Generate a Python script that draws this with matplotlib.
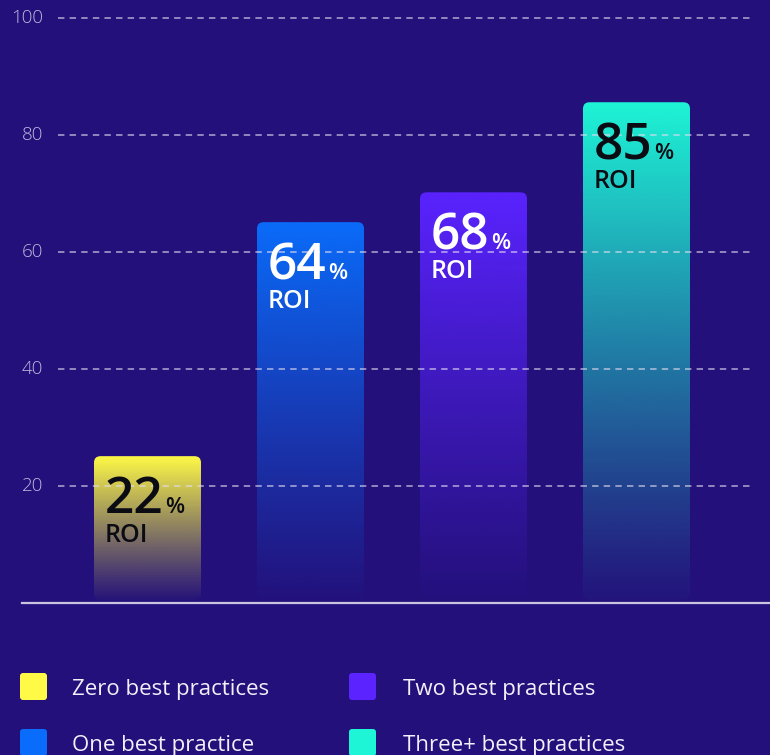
import numpy as np
import matplotlib
matplotlib.use("Agg")
import matplotlib.pyplot as plt
from matplotlib.patches import FancyBboxPatch
from matplotlib.colors import to_rgb

# data
categories = ["Zero best practices", "One best practice", "Two best practices", "Three+ best practices"]
bar_heights = [25.1, 65.1, 70.2, 85.6]
roi_labels = ["22", "64", "68", "85"]
bar_colors = ["#fffa46", "#0a6cfa", "#5a23ff", "#1ef5d6"]
text_colors = ["#0b0b14", "white", "white", "#0b0b14"]
yticks = [20, 40, 60, 80, 100]

bg = "#23107a"
font = ["Open Sans", "DejaVu Sans"]
plt.rcParams["font.family"] = font

fig = plt.figure(figsize=(7.7, 7.55), dpi=100, facecolor=bg)
ax = fig.add_axes([22 / 770, 152 / 755, 748 / 770, 585 / 755])
ax.set_facecolor(bg)
ax.set_xlim(-0.770, 3.819)
ax.set_ylim(0, 100)
ax.axis("off")

width = 107 / 163
aspect = (100 / 585) * 163  # y units per x unit in pixels

nums = []
for i, (h, c) in enumerate(zip(bar_heights, bar_colors)):
    x0 = i - width / 2
    patch = FancyBboxPatch((x0, 0.5), width, h - 0.5,
                           boxstyle="round,pad=0,rounding_size=0.04",
                           mutation_aspect=aspect, facecolor="none",
                           edgecolor="none")
    ax.add_patch(patch)
    n = 256
    grad = np.zeros((n, 1, 4))
    grad[:, 0, :3] = to_rgb(c)
    grad[:, 0, 3] = np.linspace(1.0, 0.03, n) ** 1.1
    im = ax.imshow(grad, extent=(x0, x0 + width, 0.5, h), aspect="auto",
                   origin="upper", zorder=2, interpolation="bilinear")
    im.set_clip_path(patch)

    t = ax.annotate(roi_labels[i], xy=(x0, h), xytext=(8, -41),
                    textcoords="offset points", fontsize=37, color=text_colors[i],
                    fontweight="semibold", va="baseline", ha="left", zorder=5)
    nums.append((t, x0, h, text_colors[i]))
    ax.annotate("ROI", xy=(x0, h), xytext=(8, -62),
                textcoords="offset points", fontsize=18, color=text_colors[i],
                fontweight="semibold", va="baseline", ha="left", zorder=5)

ax.set_xlim(-0.770, 3.819)
ax.set_ylim(0, 100)

# "%" right after the number, on the same baseline
fig.canvas.draw()
r = fig.canvas.get_renderer()
for t, x0, h, tc in nums:
    w_pt = t.get_window_extent(r).width * 72 / fig.dpi
    ax.annotate("%", xy=(x0, h), xytext=(8 + w_pt + 1, -41),
                textcoords="offset points", fontsize=16, color=tc,
                fontweight="semibold", va="baseline", ha="left", zorder=5)

# dashed grid over the bars
for y in yticks:
    ax.hlines(y, -0.549, 3.709, colors="#e0dcf0", alpha=0.75, lw=1.1,
              linestyles=(0, (4.2, 3.4)), zorder=3, clip_on=False)
    ax.text(-0.641, y, str(y), ha="right", va="center", fontsize=13.5,
            color="#bdb7dc", fontweight="light", clip_on=False)

# baseline
ax.axhline(0, color="#c9c4e0", lw=1.6, zorder=4, clip_on=False)

# legend (manual, second row cut off at the bottom like the reference)
lg = fig.add_axes([0, 0, 1, 1], zorder=10)
lg.set_xlim(0, 770)
lg.set_ylim(755, 0)
lg.axis("off")
lg.patch.set_alpha(0)
pos = [(20, 673, 72), (20, 729, 72), (349, 673, 403), (349, 729, 403)]
for (sx, sy, tx), name, c in zip(pos, categories, bar_colors):
    lg.add_patch(FancyBboxPatch((sx, sy), 27, 27, boxstyle="round,pad=0,rounding_size=3",
                                facecolor=c, edgecolor="none"))
    lg.text(tx, sy + 22, name, fontsize=16, color="#f2f0fa", va="baseline", ha="left")

fig.savefig("out.png", dpi=100, facecolor=bg)
